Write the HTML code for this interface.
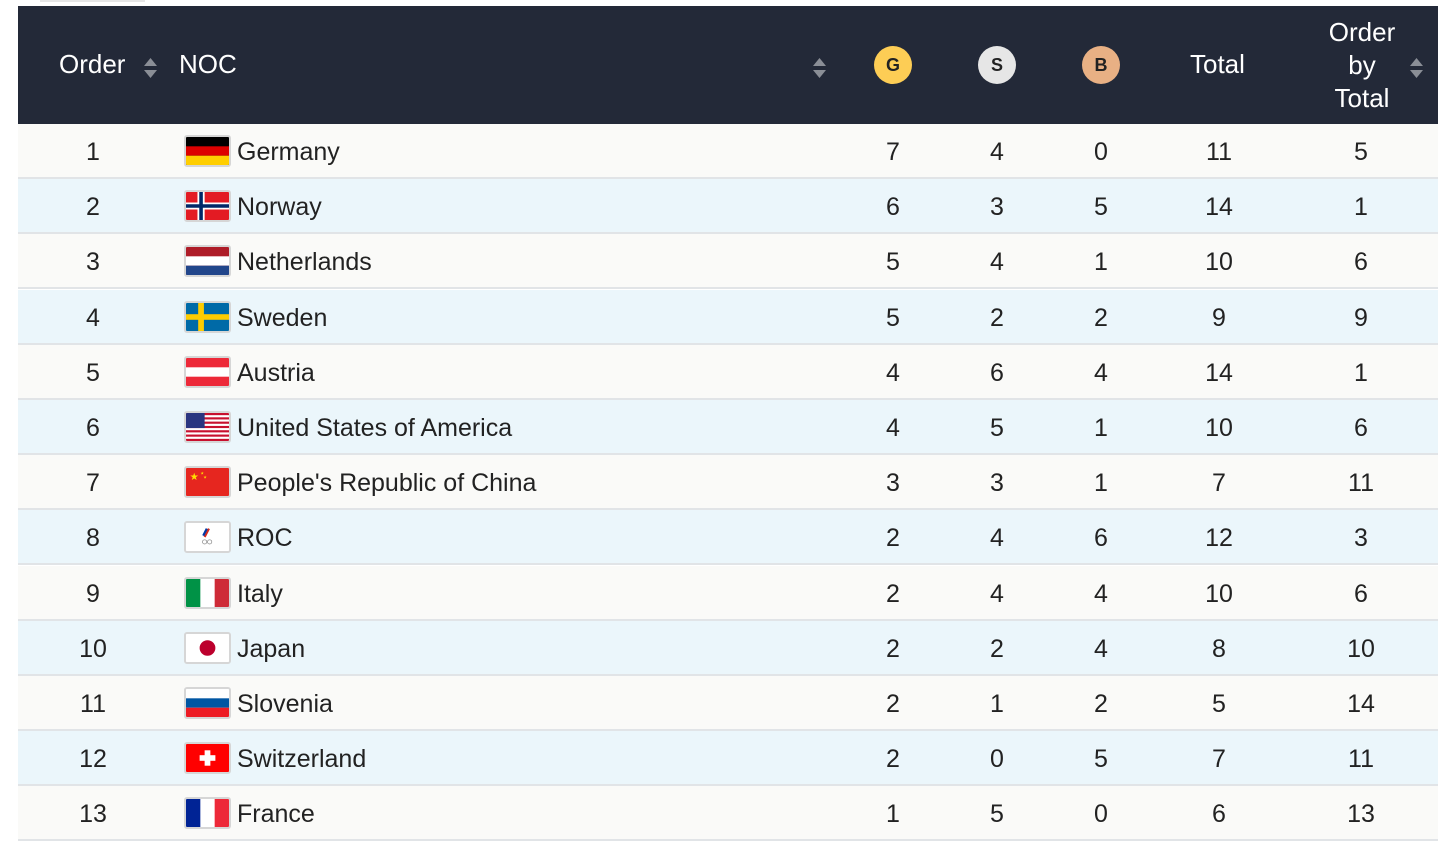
<!DOCTYPE html>
<html><head><meta charset="utf-8"><style>
*{margin:0;padding:0;box-sizing:border-box}
body{width:1449px;height:837px;overflow:hidden;background:#fff;font-family:"Liberation Sans",sans-serif;position:relative}
.hdr{position:absolute;left:18px;top:6px;width:1420px;height:118px;background:#232938;color:#fff;font-size:26px}
.hdr div{position:absolute}
.row{position:absolute;left:18px;width:1420px;height:55px;font-size:25px;color:#222;border-bottom:2px solid #e1e4e7}
.row div{position:absolute;top:14px}
.c{text-align:center;width:80px;margin-left:-40px}
.flag{position:absolute;left:166px;top:11px!important;width:47px;height:32px;border:2px solid #d6d6d6;border-radius:3px;overflow:hidden}
.flag svg{display:block;width:100%;height:100%}
.med{width:38px;height:38px;border-radius:50%;color:#222;font-size:18px;font-weight:bold;text-align:center;line-height:38px;top:40px}
</style></head><body>
<div style="position:absolute;left:40px;top:0;width:105px;height:2px;background:#e6e6e6"></div>
<div class="hdr">
<div style="left:41px;top:43px">Order</div>
<div style="left:125px;top:49px"><svg width="15" height="22"><path d="M7.5 1L14 9H1z M7.5 21L14 13H1z" fill="#8a8e96"/></svg></div>
<div style="left:161px;top:43px">NOC</div>
<div style="left:794px;top:49px"><svg width="15" height="22"><path d="M7.5 1L14 9H1z M7.5 21L14 13H1z" fill="#8a8e96"/></svg></div>
<div class="med" style="left:856px;background:#fdcd55">G</div>
<div class="med" style="left:960px;background:#e6e6e6">S</div>
<div class="med" style="left:1064px;background:#e8b084">B</div>
<div style="left:1172px;top:43px">Total</div>
<div style="left:1308px;top:10px;text-align:center;line-height:33px;width:72px">Order<br>by<br>Total</div>
<div style="left:1391px;top:49px"><svg width="15" height="22"><path d="M7.5 1L14 9H1z M7.5 21L14 13H1z" fill="#8a8e96"/></svg></div>
</div>
<div id="rows"></div>
<script>
const F={
de:'<rect width="60" height="40" fill="#000"/><rect y="13.3" width="60" height="13.4" fill="#dd0000"/><rect y="26.7" width="60" height="13.3" fill="#ffce00"/>',
no:'<rect width="60" height="40" fill="#e31b23"/><rect x="16" width="10" height="40" fill="#fff"/><rect y="15" width="60" height="10" fill="#fff"/><rect x="18.5" width="5" height="40" fill="#002868"/><rect y="17.5" width="60" height="5" fill="#002868"/>',
nl:'<rect width="60" height="40" fill="#ae1c28"/><rect y="13.3" width="60" height="13.4" fill="#fff"/><rect y="26.7" width="60" height="13.3" fill="#21468b"/>',
se:'<rect width="60" height="40" fill="#006aa7"/><rect x="17" width="8" height="40" fill="#fecc00"/><rect y="16" width="60" height="8" fill="#fecc00"/>',
at:'<rect width="60" height="40" fill="#ed2939"/><rect y="13.3" width="60" height="13.4" fill="#fff"/>',
us:'<rect width="60" height="40" fill="#fff"/>'+[0,2,4,6,8,10,12].map(i=>`<rect y="${i*40/13}" width="60" height="${40/13}" fill="#c8102e"/>`).join('')+'<rect width="26" height="21.5" fill="#2a3580"/>',
cn:'<rect width="60" height="40" fill="#e6261f"/><text x="5" y="17" font-size="14" fill="#ffde00">★</text><text x="20" y="9" font-size="6" fill="#ffde00">★</text><text x="24" y="15" font-size="6" fill="#ffde00">★</text>',
roc:'<rect width="60" height="40" fill="#fff"/><path d="M32 8 L26 20" stroke="#d52b1e" stroke-width="3"/><path d="M29 8 L24 18" stroke="#0039a6" stroke-width="3"/><circle cx="26" cy="27" r="3" fill="none" stroke="#888"/><circle cx="33" cy="27" r="3" fill="none" stroke="#888"/>',
it:'<rect width="60" height="40" fill="#fff"/><rect width="20" height="40" fill="#009246"/><rect x="40" width="20" height="40" fill="#ce2b37"/>',
jp:'<rect width="60" height="40" fill="#fff"/><circle cx="30" cy="20" r="11" fill="#bc002d"/>',
si:'<rect width="60" height="40" fill="#fff"/><rect y="13.3" width="60" height="13.4" fill="#0056a3"/><rect y="26.7" width="60" height="13.3" fill="#ed1c24"/>',
ch:'<rect width="60" height="40" fill="#ff0000"/><rect x="26" y="9" width="8" height="22" fill="#fff"/><rect x="19" y="16" width="22" height="8" fill="#fff"/>',
fr:'<rect width="60" height="40" fill="#fff"/><rect width="20" height="40" fill="#002395"/><rect x="40" width="20" height="40" fill="#ed2939"/>'};
const D=[["de","Germany",7,4,0,11,5],["no","Norway",6,3,5,14,1],["nl","Netherlands",5,4,1,10,6],["se","Sweden",5,2,2,9,9],["at","Austria",4,6,4,14,1],["us","United States of America",4,5,1,10,6],["cn","People's Republic of China",3,3,1,7,11],["roc","ROC",2,4,6,12,3],["it","Italy",2,4,4,10,6],["jp","Japan",2,2,4,8,10],["si","Slovenia",2,1,2,5,14],["ch","Switzerland",2,0,5,7,11],["fr","France",1,5,0,6,13]];
let h='';D.forEach((d,i)=>{h+=`<div class="row" style="top:${124+i*55.2}px;background:${i%2?'#ebf6fb':'#fafaf8'}">
<div class="c" style="left:75px">${i+1}</div>
<div class="flag"><svg viewBox="0 0 60 40" preserveAspectRatio="none">${F[d[0]]}</svg></div>
<div style="left:219px">${d[1]}</div>
<div class="c" style="left:875px">${d[2]}</div><div class="c" style="left:979px">${d[3]}</div><div class="c" style="left:1083px">${d[4]}</div>
<div class="c" style="left:1201px">${d[5]}</div><div class="c" style="left:1343px">${d[6]}</div></div>`});
document.getElementById('rows').innerHTML=h;
</script>
</body></html>
